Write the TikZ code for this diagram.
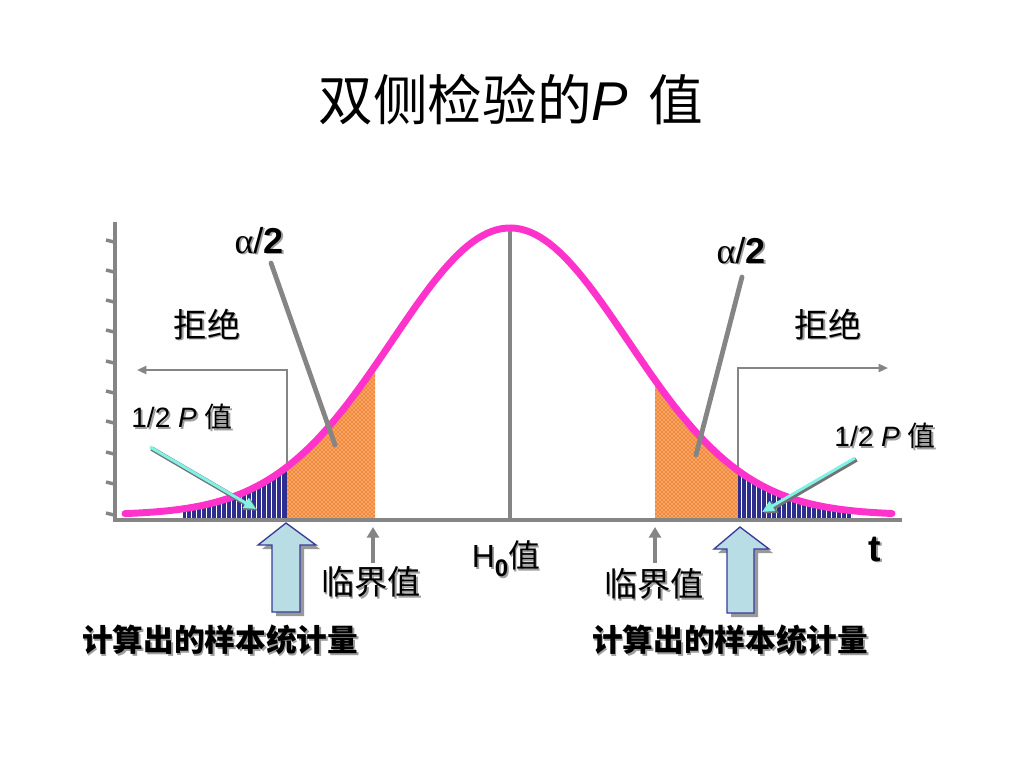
\documentclass[tikz,border=0pt]{standalone}
\usepackage{fontspec}
\setmainfont{Liberation Sans}
\newfontfamily\cjk{Noto Sans CJK SC}
\newfontfamily\grk{Liberation Serif}
\usetikzlibrary{patterns,arrows.meta,calc}
\definecolor{axisgray}{HTML}{858585}
\definecolor{magentac}{HTML}{FF33CC}
\definecolor{navyc}{HTML}{2E2E8F}
\definecolor{orangec}{HTML}{F28A3A}
\definecolor{cyanc}{HTML}{80F2E6}
\definecolor{arrowblue}{HTML}{B8DDE4}
\definecolor{arrowedge}{HTML}{3A3A9A}
\newcommand\shtext[1]{\leavevmode\rlap{\kern1.3pt\raisebox{-1.3pt}{\color{black!38}#1}}#1}
\tikzset{
  lbl/.style={inner sep=0pt, text=black},
  pointer/.style={axisgray, line width=3.6pt, line cap=round},
  bracket/.style={axisgray, line width=1.6pt, -{Triangle[length=7pt,width=6pt]}},
  critarrow/.style={axisgray, line width=2.6pt, -{Triangle[length=8pt,width=9pt]}},
  cyanarrow/.style={cyanc, line width=2.2pt, -{Triangle[length=9pt,width=8pt]}},
  cyanshadow/.style={black!55, line width=3.4pt, -{Triangle[length=10pt,width=10pt]}},
  blockarrow/.style={fill=arrowblue, draw=arrowedge, line width=1pt},
  blockshadow/.style={fill=black!40},
}
\begin{document}
\begin{tikzpicture}[x=0.75pt,y=-0.75pt,
  declare function={g(\t)=515-287*exp(-0.5*((\t-510)/118)*((\t-510)/118));}]
\useasboundingbox (0,0) rectangle (1024,768);
\fill[white] (0,0) rectangle (1024,768);

% title
\node[lbl] (title) at (511,100) {\fontsize{41}{41}\selectfont\cjk 双侧检验的{\normalfont\itshape P}\hspace{0.38em}值};

% rejection brackets (under the fills)
\coordinate (lbfoot) at (287,470);
\coordinate (lbtop) at (287,370);
\coordinate (lbend) at (137,370);
\coordinate (rbfoot) at (738,470);
\coordinate (rbtop) at (738,368);
\coordinate (rbend) at (888,368);
\draw[bracket] (lbfoot) -- (lbtop) -- (lbend);
\draw[bracket] (rbfoot) -- (rbtop) -- (rbend);

% shaded regions
% left blue
\fill[navyc] (183,518) -- plot[domain=183:287,samples=40] (\x,{g(\x)}) -- (287,518) -- cycle;
\begin{scope}
  \clip (183,518) -- plot[domain=183:287,samples=40] (\x,{g(\x)}) -- (287,518) -- cycle;
  \foreach \s in {186,191,...,285} \draw[white, line width=0.6pt] (\s,440) -- (\s,520);
\end{scope}
% left orange
\fill[orangec] (287,518) -- plot[domain=287:375,samples=40] (\x,{g(\x)}) -- (375,518) -- cycle;
\fill[pattern=crosshatch dots, pattern color=white] (287,518) -- plot[domain=287:375,samples=40] (\x,{g(\x)}) -- (375,518) -- cycle;
% right orange
\fill[orangec] (655,518) -- plot[domain=655:738,samples=40] (\x,{g(\x)}) -- (738,518) -- cycle;
\fill[pattern=crosshatch dots, pattern color=white] (655,518) -- plot[domain=655:738,samples=40] (\x,{g(\x)}) -- (738,518) -- cycle;
% right blue
\fill[navyc] (738,518) -- plot[domain=738:852,samples=40] (\x,{g(\x)}) -- (852,518) -- cycle;
\begin{scope}
  \clip (738,518) -- plot[domain=738:852,samples=40] (\x,{g(\x)}) -- (852,518) -- cycle;
  \foreach \s in {741,746,...,852} \draw[white, line width=0.6pt] (\s,440) -- (\s,520);
\end{scope}

% centre line
\coordinate (peak) at (510,229);
\coordinate (centrefoot) at (510,518);
\draw[axisgray, line width=2.4pt] (peak) -- (centrefoot);

% axes
\coordinate (ytop) at (115,222);
\coordinate (origin) at (115,520);
\coordinate (xend) at (902,520);
\draw[axisgray, line width=3.6pt] (ytop) -- (origin) -- (xend);
\foreach \ty in {240,270,300,330,361,391,421,452,482,513}
  \draw[axisgray, line width=2.6pt] (106,\ty) -- (114,\ty+2);

% bell curve
\draw[magentac, line width=5.2pt, line cap=round] plot[domain=125:892,samples=160] (\x,{g(\x)});

% alpha/2 labels and pointers
\node[lbl] (alphaL) at (259,241) {\fontsize{27}{27}\selectfont\shtext{{\grk α}/\textbf{2}}};
\node[lbl] (alphaR) at (741,251) {\fontsize{27}{27}\selectfont\shtext{{\grk α}/\textbf{2}}};
\coordinate (aLs) at (271,263);
\coordinate (aLe) at (335,445);
\coordinate (aRs) at (742,277);
\coordinate (aRe) at (696,455);
\draw[pointer] (aLs) -- (aLe);
\draw[pointer] (aRs) -- (aRe);

% reject labels
\node[lbl] (rejL) at (207,325) {\fontsize{25}{25}\selectfont\cjk\shtext{拒绝}};
\node[lbl] (rejR) at (828,325) {\fontsize{25}{25}\selectfont\cjk\shtext{拒绝}};

% 1/2 P labels with cyan arrows
\node[lbl] (halfL) at (182,418) {\fontsize{21}{21}\selectfont\shtext{1/2 \textit{P} {\cjk 值}}};
\node[lbl] (halfR) at (885,437) {\fontsize{21}{21}\selectfont\shtext{1/2 \textit{P} {\cjk 值}}};
\coordinate (hLs) at (150,447);
\coordinate (hLe) at (256,509);
\coordinate (hRs) at (855,458);
\coordinate (hRe) at (762,512);
\draw[cyanshadow] ($(hLs)+(1.5,1.5)$) -- ($(hLe)+(1.5,1.5)$);
\draw[cyanarrow] (hLs) -- (hLe);
\draw[cyanshadow] ($(hRs)+(1.5,1.5)$) -- ($(hRe)+(1.5,1.5)$);
\draw[cyanarrow] (hRs) -- (hRe);

% critical value arrows and labels
\node[lbl] (critL) at (371,583) {\fontsize{25}{25}\selectfont\cjk\shtext{临界值}};
\node[lbl] (critR) at (654,585) {\fontsize{25}{25}\selectfont\cjk\shtext{临界值}};
\coordinate (cLs) at (373,563);
\coordinate (cLe) at (373,527);
\coordinate (cRs) at (655,563);
\coordinate (cRe) at (655,527);
\draw[critarrow] (cLs) -- (cLe);
\draw[critarrow] (cRs) -- (cRe);

% H0 and t
\node[lbl] (hnull) at (506,560) {\fontsize{24}{24}\selectfont\shtext{H\raisebox{-0.28em}{\fontsize{18}{18}\selectfont\bfseries 0}{\cjk 值}}};
\node[lbl] (tlabel) at (875,550) {\fontsize{28}{28}\selectfont\bfseries\shtext{t}};

% block arrows (sample statistic)
\fill[blockshadow] (290,527) -- (320,549) -- (304,549) -- (304,616) -- (276,616) -- (276,549) -- (262,549) -- cycle;
\draw[blockarrow] (286,523) -- (316,545) -- (300,545) -- (300,612) -- (272,612) -- (272,545) -- (258,545) -- cycle;
\fill[blockshadow] (744,531) -- (773,553) -- (758,553) -- (758,617) -- (731,617) -- (731,553) -- (718,553) -- cycle;
\draw[blockarrow] (740,527) -- (769,549) -- (754,549) -- (754,613) -- (727,613) -- (727,549) -- (714,549) -- cycle;

\node[lbl] (statL) at (220,641) {\fontsize{23}{23}\selectfont\cjk\bfseries\shtext{计算出的样本统计量}};
\node[lbl] (statR) at (730,641) {\fontsize{23}{23}\selectfont\cjk\bfseries\shtext{计算出的样本统计量}};
\end{tikzpicture}
\end{document}
